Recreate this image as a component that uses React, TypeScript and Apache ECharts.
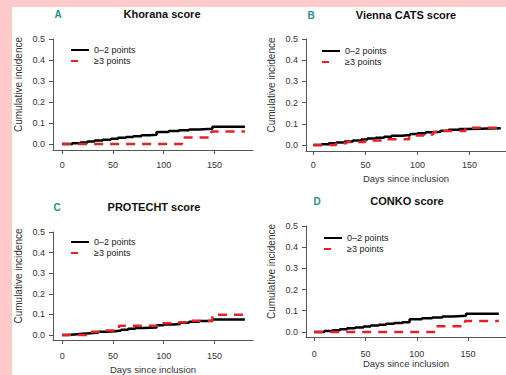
import React, { useEffect, useRef } from "react";
import * as echarts from "echarts";

// Cumulative incidence step data: [day, value after step]
const khoranaLow: [number, number][] = [
  [0, 0], [10, 0.004], [18, 0.008], [25, 0.012], [32, 0.017], [40, 0.021], [48, 0.026],
  [55, 0.03], [63, 0.034], [70, 0.038], [78, 0.042], [86, 0.045], [93, 0.058], [105, 0.062],
  [115, 0.066], [125, 0.07], [135, 0.073], [148, 0.083], [180, 0.083],
];
const khoranaHigh: [number, number][] = [[0, 0], [118, 0.031], [147, 0.06], [180, 0.06]];

const viennaLow: [number, number][] = [
  [0, 0], [8, 0.004], [15, 0.008], [22, 0.012], [30, 0.017], [38, 0.021], [46, 0.026],
  [52, 0.031], [60, 0.035], [68, 0.039], [75, 0.044], [85, 0.047], [93, 0.052], [100, 0.056],
  [108, 0.06], [115, 0.063], [122, 0.068], [130, 0.072], [140, 0.076], [148, 0.079], [180, 0.079],
];
const viennaHigh: [number, number][] = [
  [0, 0], [22, 0.008], [32, 0.015], [50, 0.022], [68, 0.027], [92, 0.045], [106, 0.05],
  [115, 0.062], [125, 0.066], [146, 0.082], [180, 0.082],
];

const protechtLow: [number, number][] = [
  [0, 0], [5, 0.003], [12, 0.006], [20, 0.009], [28, 0.012], [36, 0.016], [44, 0.019],
  [52, 0.022], [58, 0.026], [65, 0.03], [72, 0.034], [80, 0.037], [93, 0.047], [100, 0.051],
  [110, 0.054], [116, 0.06], [125, 0.064], [135, 0.068], [148, 0.076], [180, 0.076],
];
const protechtHigh: [number, number][] = [
  [0, 0], [28, 0.016], [40, 0.022], [56, 0.045], [98, 0.057], [115, 0.062], [122, 0.07],
  [148, 0.098], [180, 0.098],
];

const conkoLow: [number, number][] = [
  [0, 0], [10, 0.004], [18, 0.008], [25, 0.012], [32, 0.017], [40, 0.021], [48, 0.026],
  [55, 0.03], [63, 0.034], [70, 0.038], [78, 0.042], [86, 0.046], [93, 0.06], [105, 0.064],
  [115, 0.068], [125, 0.073], [135, 0.076], [148, 0.086], [180, 0.086],
];
const conkoHigh: [number, number][] = [[0, 0], [118, 0.027], [147, 0.052], [180, 0.052]];

const panelTitles = ["Khorana score", "Vienna CATS score", "PROTECHT score", "CONKO score"];
const panelLetters = ["A", "B", "C", "D"];
const seriesNames = ["0–2 points", "≥3 points"];
const xTicks = [0, 50, 100, 150];
const yTicks = [0, 0.1, 0.2, 0.3, 0.4, 0.5];
const yTitle = "Cumulative incidence";
const xTitle = "Days since inclusion";

const FONT = '"Liberation Sans", Arial, Helvetica, sans-serif';

export default function App() {
  const ref = useRef<HTMLDivElement>(null);
  useEffect(() => {
    if (!ref.current) return;
    const chart = echarts.init(ref.current, null, { renderer: "svg" });

    const grids = [
      { left: 53, top: 39, width: 200, height: 111 },
      { left: 306, top: 39, width: 200, height: 112 },
      { left: 53, top: 232, width: 200, height: 110 },
      { left: 306, top: 226, width: 200, height: 111 },
    ];
    const xRange = [[-9, 188], [-7, 185], [-9, 188], [-8, 187]];
    const yMin = [-0.028, -0.028, -0.024, -0.024];
    const xName = [false, true, true, true];
    const xNameGap = [22, 22, 24, 21];
    const xLabelMargin = [10, 9, 11, 12];
    const legendPos = [
      { left: 70, top: 44.5 },
      { left: 321, top: 45.5 },
      { left: 70, top: 236.5 },
      { left: 323, top: 232.5 },
    ];
    const titlePos = [
      { x: 162, y: 14 },
      { x: 406, y: 15 },
      { x: 154, y: 207 },
      { x: 407, y: 201 },
    ];
    const letterPos = [
      { x: 58, y: 14 },
      { x: 311, y: 15 },
      { x: 57, y: 207 },
      { x: 317, y: 201 },
    ];
    const data = [
      [khoranaLow, khoranaHigh],
      [viennaLow, viennaHigh],
      [protechtLow, protechtHigh],
      [conkoLow, conkoHigh],
    ];

    const axisColor = "#555";
    const textColor = "#333";

    const xAxis = grids.map((_, i) => ({
      type: "value",
      gridIndex: i,
      min: xRange[i][0],
      max: xRange[i][1],
      name: xName[i] ? xTitle : "",
      nameLocation: "middle",
      nameGap: xNameGap[i],
      nameTextStyle: { fontSize: 9.5, color: textColor, fontFamily: FONT },
      axisLine: { show: true, onZero: false, lineStyle: { color: axisColor, width: 1 } },
      axisTick: { show: true, length: 4, customValues: xTicks, lineStyle: { color: axisColor } },
      axisLabel: {
        customValues: xTicks,
        margin: xLabelMargin[i],
        fontSize: 9,
        color: textColor,
        fontFamily: FONT,
      },
      splitLine: { show: false },
    }));

    const yAxis = grids.map((_, i) => ({
      type: "value",
      gridIndex: i,
      min: yMin[i],
      max: 0.5,
      name: yTitle,
      nameLocation: "middle",
      nameGap: 30,
      nameTextStyle: { fontSize: 10, color: textColor, fontFamily: FONT, padding: [0, 0, 0, 20] },
      axisLine: { show: true, onZero: false, lineStyle: { color: axisColor, width: 1 } },
      axisTick: { show: true, length: 4, customValues: yTicks, lineStyle: { color: axisColor } },
      axisLabel: {
        customValues: yTicks,
        margin: 8,
        fontSize: 9,
        color: textColor,
        fontFamily: FONT,
        formatter: (v: number) => v.toFixed(1),
      },
      splitLine: { show: false },
    }));

    const series: any[] = [];
    data.forEach((pair, i) => {
      series.push({
        type: "line",
        name: seriesNames[0],
        xAxisIndex: i,
        yAxisIndex: i,
        step: "end",
        symbol: "none",
        data: pair[0],
        lineStyle: { color: "#000", width: 2.5, cap: "butt" },
        itemStyle: { color: "#000" },
        z: 3,
      });
      series.push({
        type: "line",
        name: seriesNames[1],
        xAxisIndex: i,
        yAxisIndex: i,
        step: "end",
        symbol: "none",
        data: pair[1],
        lineStyle: { color: "#e3212b", width: 2.5, type: [9, 7], cap: "butt" },
        itemStyle: { color: "#e3212b" },
        z: 4,
      });
    });

    const legend = legendPos.map((p) => ({
      left: p.left,
      top: p.top,
      orient: "vertical",
      padding: 0,
      itemWidth: 18,
      itemHeight: 11,
      itemGap: 0,
      selectedMode: false,
      itemStyle: { opacity: 0, color: "transparent", borderWidth: 0 },
      textStyle: { fontSize: 9, lineHeight: 11, color: "#222", fontFamily: FONT },
      data: [
        { name: seriesNames[0] },
        { name: seriesNames[1], lineStyle: { type: [7, 20] } },
      ],
    }));

    const graphicEls: any[] = [
      {
        type: "rect",
        z: -10,
        shape: { x: 12, y: 7, width: 494, height: 368 },
        style: { fill: "#ffffff" },
        silent: true,
      },
    ];
    panelTitles.forEach((t, i) => {
      graphicEls.push({
        type: "text",
        x: titlePos[i].x,
        y: titlePos[i].y,
        z: 10,
        style: {
          text: t,
          fontSize: 11,
          fontWeight: "bold",
          fontFamily: FONT,
          fill: "#111",
          align: "center",
          verticalAlign: "middle",
        },
      });
      graphicEls.push({
        type: "text",
        x: letterPos[i].x,
        y: letterPos[i].y,
        z: 10,
        style: {
          text: panelLetters[i],
          fontSize: 10,
          fontWeight: "bold",
          fontFamily: FONT,
          fill: "#2b8c8c",
          align: "center",
          verticalAlign: "middle",
        },
      });
    });

    chart.setOption({
      animation: false,
      backgroundColor: "#ffcaca",
      grid: grids,
      xAxis,
      yAxis,
      series,
      legend,
      graphic: { elements: graphicEls },
    });
    return () => chart.dispose();
  }, []);

  return (
    <div
      ref={ref}
      style={{ position: "absolute", left: 0, top: 0, width: 506, height: 375 }}
    />
  );
}
